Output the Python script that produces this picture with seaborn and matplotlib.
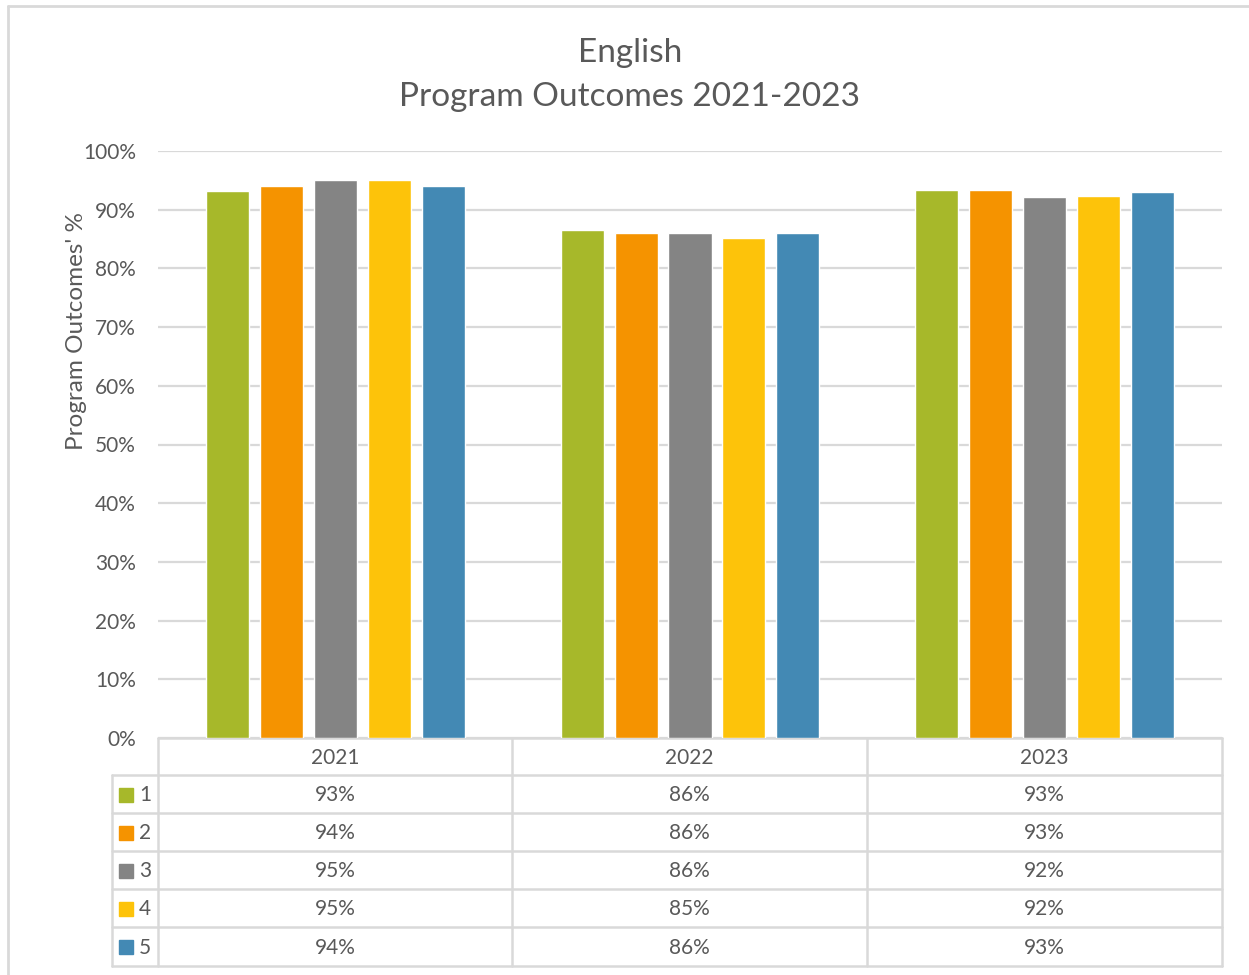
import matplotlib
matplotlib.use("Agg")
import matplotlib.pyplot as plt
from matplotlib.patches import Rectangle
from matplotlib.lines import Line2D
import seaborn as sns
import pandas as pd

# ---- data ----
years = ["2021", "2022", "2023"]
outcomes = ["1", "2", "3", "4", "5"]
po1 = [93.2, 86.5, 93.3]
po2 = [94.0, 86.0, 93.3]
po3 = [95.0, 86.0, 92.2]
po4 = [95.0, 85.2, 92.3]
po5 = [94.0, 86.0, 93.0]
table_labels = {
    "1": ["93%", "86%", "93%"],
    "2": ["94%", "86%", "93%"],
    "3": ["95%", "86%", "92%"],
    "4": ["95%", "85%", "92%"],
    "5": ["94%", "86%", "93%"],
}
colors = ["#A7B82A", "#F59300", "#848484", "#FDC30A", "#4389B4"]

series = [po1, po2, po3, po4, po5]
rows = []
for o, vals in zip(outcomes, series):
    for y, v in zip(years, vals):
        rows.append({"Year": y, "Outcome": o, "Value": v})
df = pd.DataFrame(rows)

sns.set_theme(style="white")
plt.rcParams["font.family"] = ["Lato", "DejaVu Sans"]
TXT = "#595959"
GRID = "#D9D9D9"
FS = 15

W, H = 1249, 975
fig = plt.figure(figsize=(W / 100, H / 100), dpi=100)

# overlay axes in pixel coordinates
ov = fig.add_axes([0, 0, 1, 1], zorder=0)
ov.set_xlim(0, W)
ov.set_ylim(H, 0)
ov.axis("off")

# plot area
L, R, T, B = 158, 1222, 151, 738
ax = fig.add_axes([L / W, (H - B) / H, (R - L) / W, (B - T) / H], zorder=2)
ax.patch.set_alpha(0)
sns.barplot(data=df, x="Year", y="Value", hue="Outcome", palette=colors,
            width=0.76, gap=0.2, ax=ax, legend=False, saturation=1, zorder=3)
ax.set_ylim(0, 100)
ax.set_xlim(-0.5, 2.5)
ax.set_yticks(range(0, 101, 10))
ax.set_yticklabels([f"{t}%" for t in range(0, 101, 10)], color=TXT, fontsize=FS)
ax.tick_params(axis="y", length=0, pad=16)
ax.set_xticks([])
ax.set_xlabel("")
ax.set_ylabel("")
for s in ax.spines.values():
    s.set_visible(False)
ax.grid(axis="y", color=GRID, linewidth=1.6, zorder=0)
ax.set_axisbelow(True)

# titles and axis label
ov.text(630, 53, "English", ha="center", va="center", fontsize=24, color=TXT)
ov.text(630, 97, "Program Outcomes 2021-2023", ha="center", va="center",
        fontsize=24, color=TXT)
ov.text(77, 331, "Program Outcomes' %", rotation=90, ha="center", va="center",
        fontsize=17.5, color=TXT)

# outer border
ov.add_line(Line2D([8, 8], [6, H + 5], color=GRID, lw=2))
ov.add_line(Line2D([8, W + 5], [6, 6], color=GRID, lw=2))

# data table
col_edges = [L, 512, 867, R]
row_edges = [738, 775, 813, 851, 889, 927, 966]
LEFT = 112
lw = 1.8
ov.add_line(Line2D([L, R], [row_edges[0]] * 2, color=GRID, lw=lw))
for yy in row_edges[1:]:
    ov.add_line(Line2D([LEFT, R], [yy, yy], color=GRID, lw=lw))
for xx in col_edges:
    ov.add_line(Line2D([xx, xx], [row_edges[0], row_edges[-1]], color=GRID, lw=lw))
ov.add_line(Line2D([LEFT, LEFT], [row_edges[1], row_edges[-1]], color=GRID, lw=lw))

for i, yr in enumerate(years):
    cx = (col_edges[i] + col_edges[i + 1]) / 2
    ov.text(cx, (row_edges[0] + row_edges[1]) / 2 + 1, yr, ha="center", va="center",
            fontsize=FS, color=TXT)
for r, o in enumerate(outcomes):
    cy = (row_edges[r + 1] + row_edges[r + 2]) / 2 + 1
    ov.add_patch(Rectangle((119, cy - 7.5), 14, 14, color=colors[r]))
    ov.text(139, cy, o, ha="left", va="center", fontsize=FS, color=TXT)
    for i in range(len(years)):
        cx = (col_edges[i] + col_edges[i + 1]) / 2
        ov.text(cx, cy, table_labels[o][i], ha="center", va="center", fontsize=FS, color=TXT)

fig.savefig("out.png", dpi=100)
